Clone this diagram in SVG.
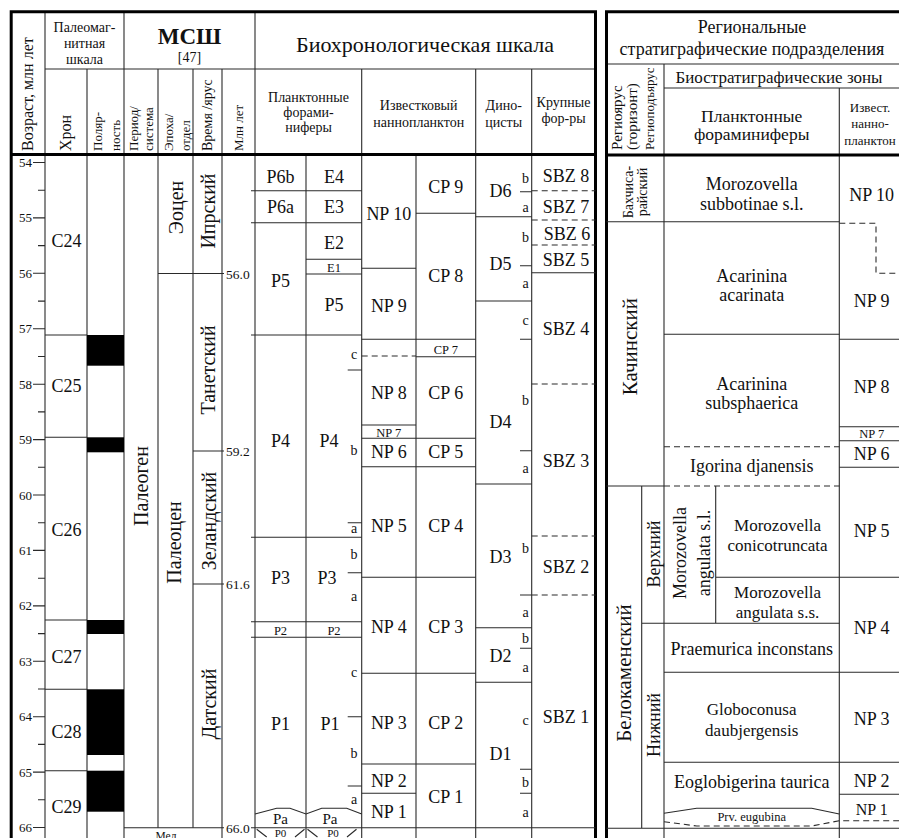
<svg xmlns="http://www.w3.org/2000/svg" width="899" height="838" viewBox="0 0 899 838">
<style>
text{font-family:"Liberation Serif","Times New Roman",serif;fill:#111}
.l{stroke:#2a2a2a;stroke-width:1.1;fill:none}
.t{stroke:#000;stroke-width:3;fill:none}
.d{stroke:#2a2a2a;stroke-width:1.1;fill:none;stroke-dasharray:6 4}
.m{text-anchor:middle}
.z{font-size:18px;text-anchor:middle}
.sm{font-size:12.5px;text-anchor:middle}
.ab{font-size:14px;text-anchor:middle}
.tk{font-size:13px;text-anchor:end}
.ma{font-size:13.5px}
.h14{font-size:14px;text-anchor:middle}
.v20{font-size:20px;text-anchor:middle}
.rs{font-size:18px;text-anchor:middle}
.r17{font-size:17px}
.blk{fill:#000}
</style>
<rect width="899" height="838" fill="#fff"/>

<g id="grid">
 <path class="l" d="M45 69H595.5M45 11V838M124 11V838M255 11V838M87 69V838M158 69V827.7M193 69V827.7M222 69V838M361.7 69V838M475.7 69V838M531.7 69V838M306 154.5V838M416 154.5V838"/>
 <path class="t" d="M9.7 11.8H597M11.2 10.5V838M595.5 10.5V838M11 154.5H595.5"/>
 <path class="l" d="M606.5 64H899M664 88H899M664 64V838M839.3 88V838"/>
 <path class="t" d="M605 11.8H899M606.5 10.5V838M606.5 155H899"/>
</g>

<g id="header-left">
 <g id="h-age"><text transform="translate(33,151) rotate(-90)" font-size="16">Возраст, млн лет</text></g>
 <g id="h-paleomag" class="h14"><text x="84.5" y="31.5">Палеомаг-</text><text x="84.5" y="48">нитная</text><text x="84.5" y="64">шкала</text></g>
 <g id="h-mssh"><text x="189.5" y="43.5" font-size="23" font-weight="bold" class="m">МСШ</text><text x="189.5" y="61.5" class="h14">[47]</text></g>
 <g id="h-chron"><text transform="translate(70.5,151) rotate(-90)" font-size="16">Хрон</text></g>
 <g id="h-pol" font-size="13"><text transform="translate(101.5,151) rotate(-90)">Поляр-</text><text transform="translate(119.5,151) rotate(-90)">ность</text></g>
 <g id="h-period" font-size="13"><text transform="translate(137.5,151) rotate(-90)">Период/</text><text transform="translate(152.5,151) rotate(-90)">система</text></g>
 <g id="h-epoch" font-size="13"><text transform="translate(172.5,151) rotate(-90)">Эпоха/</text><text transform="translate(189.5,151) rotate(-90)">отдел</text></g>
 <g id="h-stage"><text transform="translate(212,151) rotate(-90)" font-size="14">Время /ярус</text></g>
 <g id="h-ma"><text transform="translate(242.5,151) rotate(-90)" font-size="13">Млн лет</text></g>
</g>

<g id="header-middle">
 <g id="h-biochron"><text x="425" y="51.5" font-size="22" class="m">Биохронологическая шкала</text></g>
 <g id="h-pf" class="h14"><text x="308.5" y="101.5">Планктонные</text><text x="308.5" y="116.5">форами-</text><text x="308.5" y="131.5">ниферы</text></g>
 <g id="h-nanno" class="h14"><text x="418.7" y="110">Известковый</text><text x="418.7" y="126.5">наннопланктон</text></g>
 <g id="h-dino" class="h14"><text x="503.7" y="110">Дино-</text><text x="503.7" y="126.5">цисты</text></g>
 <g id="h-lbf" class="h14"><text x="563.5" y="107">Крупные</text><text x="563.5" y="123">фор-ры</text></g>
</g>

<g id="header-right">
 <g id="h-regional" font-size="18" class="m"><text x="752" y="33">Региональные</text><text x="752" y="55">стратиграфические подразделения</text></g>
 <g id="h-regio"><text transform="translate(622,150) rotate(-90)" font-size="15">Региоярус</text><text transform="translate(636.5,150) rotate(-90)" font-size="15">(горизонт)</text><text transform="translate(654,150) rotate(-90)" font-size="13">Региоподъярус</text></g>
 <g id="h-biozones"><text x="779" y="83" font-size="17" class="m">Биостратиграфические зоны</text></g>
 <g id="h-rpf" font-size="17.5" class="m"><text x="751.7" y="121.5">Планктонные</text><text x="751.7" y="140">фораминиферы</text></g>
 <g id="h-rnanno" font-size="13" class="m"><text x="870" y="111.5">Извест.</text><text x="870" y="128">нанно-</text><text x="870" y="144.5">планктон</text></g>
</g>

<g id="age-axis">
 <path class="l" d="M33 162.5H45M33 217.9H45M33 273.3H45M33 328.8H45M33 384.2H45M33 439.6H45M33 495H45M33 550.4H45M33 605.9H45M33 661.3H45M33 716.7H45M33 772.1H45M33 827.5H45"/>
 <path class="l" d="M38 190.2H45M38 245.6H45M38 301.1H45M38 356.5H45M38 411.9H45M38 467.3H45M38 522.7H45M38 578.2H45M38 633.6H45M38 689H45M38 744.4H45M38 799.8H45"/>
 <g class="tk">
  <text x="32" y="167">54</text><text x="32" y="222.4">55</text><text x="32" y="277.8">56</text><text x="32" y="333.3">57</text><text x="32" y="388.7">58</text><text x="32" y="444.1">59</text><text x="32" y="499.5">60</text><text x="32" y="554.9">61</text><text x="32" y="610.4">62</text><text x="32" y="665.8">63</text><text x="32" y="721.2">64</text><text x="32" y="776.6">65</text><text x="32" y="832">66</text>
 </g>
</g>

<g id="magnetochrons">
 <path class="l" d="M45 335H87M45 437.3H87M45 620H87M45 689.3H87M45 770.7H87"/>
 <g class="z"><text x="66.5" y="247">C24</text><text x="66.5" y="391.5">C25</text><text x="66.5" y="536">C26</text><text x="66.5" y="663">C27</text><text x="66.5" y="737.5">C28</text><text x="66.5" y="813">C29</text></g>
</g>
<g id="polarity" class="blk">
 <rect x="87" y="335" width="37" height="30.7"/>
 <rect x="87" y="437.3" width="37" height="15"/>
 <rect x="87" y="620" width="37" height="14"/>
 <rect x="87" y="689.3" width="37" height="65.7"/>
 <rect x="87" y="770.7" width="37" height="41"/>
</g>

<g id="mssh">
 <path class="l" d="M158 273.5H224M193 451H224M193 584H224M124 827.7H224"/>
 <text transform="translate(141,486) rotate(-90)" class="v20" font-size="21" dy=".35em">Палеоген</text>
 <text transform="translate(176,207.5) rotate(-90)" class="v20" dy=".35em">Эоцен</text>
 <text transform="translate(174,542.5) rotate(-90)" class="v20" dy=".35em">Палеоцен</text>
 <text transform="translate(207.5,211) rotate(-90)" class="v20" dy=".35em">Ипрский</text>
 <text transform="translate(207.5,370) rotate(-90)" class="v20" dy=".35em">Танетский</text>
 <text transform="translate(209,521) rotate(-90)" class="v20" dy=".35em">Зеландский</text>
 <text transform="translate(209,704) rotate(-90)" class="v20" dy=".35em">Датский</text>
 <text x="166" y="840" font-size="11.5" class="m">Мел</text>
 <g class="ma"><text x="226" y="278.5">56.0</text><text x="226" y="456">59.2</text><text x="226" y="589">61.6</text><text x="226" y="832.7">66.0</text></g>
</g>

<g id="planktonic-forams">
 <path class="l" d="M251 190.7H361.7M251 222.7H361.7M306 259.3H361.7M306 274H361.7M251 335H361.7M347.7 370H361.7M347.7 522.7H361.7M251 537.3H361.7M347.7 572.7H361.7M251 621.7H361.7M251 637.3H361.7M347.7 716.7H361.7M347.7 786H361.7M251 827.7H595.5"/>
 <path class="l" d="M255 814L276.7 808.3H290L306 814L321.7 808.3H346.7L361.7 814"/>
 <path class="l" d="M256.7 829.3L266.7 837M295 837L304.5 829.3M307.5 829.3L317.5 837M347 837L356.5 829.3"/>
 <g class="z">
  <text x="280.5" y="183">P6b</text><text x="334" y="183">E4</text>
  <text x="280.5" y="212.5">P6a</text><text x="334" y="212.5">E3</text>
  <text x="334" y="248.5">E2</text>
  <text x="280.5" y="286.5">P5</text><text x="334" y="311">P5</text>
  <text x="280.5" y="446.5">P4</text><text x="329" y="446.5">P4</text>
  <text x="280.5" y="584">P3</text><text x="327" y="584">P3</text>
  <text x="280.5" y="730">P1</text><text x="330" y="730">P1</text>
 </g>
 <g class="sm"><text x="334" y="272">E1</text><text x="280.5" y="635">P2</text><text x="334" y="635">P2</text><text x="280.5" y="836.5" font-size="11">P0</text><text x="333" y="836.5" font-size="11">P0</text></g>
 <g font-size="15" class="m"><text x="280.5" y="824">Pa</text><text x="330" y="824">Pa</text></g>
 <g class="ab">
  <text x="354" y="358.5">c</text><text x="354" y="455">b</text><text x="354" y="533">a</text>
  <text x="354" y="559">b</text><text x="354" y="601">a</text>
  <text x="354" y="677">c</text><text x="354" y="758">b</text><text x="354" y="803.5">a</text>
 </g>
</g>

<g id="nannoplankton">
 <path class="l" d="M361.7 268.3H416M416 213.3H475.7M361.7 339.3H475.7M416 356.7H475.7M361.7 425H416M361.7 438.3H475.7M361.7 466.7H475.7M361.7 577.3H475.7M361.7 673.3H475.7M361.7 764H475.7M361.7 793.3H416"/>
 <path class="d" d="M361.7 356H416"/>
 <g class="z">
  <text x="388.8" y="220">NP 10</text><text x="445.8" y="193">CP 9</text>
  <text x="445.8" y="281.5">CP 8</text><text x="388.8" y="311.5">NP 9</text>
  <text x="388.8" y="399">NP 8</text><text x="445.8" y="399">CP 6</text>
  <text x="388.8" y="458">NP 6</text><text x="445.8" y="458">CP 5</text>
  <text x="388.8" y="531.5">NP 5</text><text x="445.8" y="531.5">CP 4</text>
  <text x="388.8" y="633">NP 4</text><text x="445.8" y="633">CP 3</text>
  <text x="388.8" y="729">NP 3</text><text x="445.8" y="729">CP 2</text>
  <text x="388.8" y="786.5">NP 2</text><text x="388.8" y="818">NP 1</text><text x="445.8" y="803">CP 1</text>
 </g>
 <g class="sm"><text x="445.8" y="354">CP 7</text><text x="388.8" y="437">NP 7</text></g>
</g>

<g id="dinocysts">
 <path class="l" d="M475.7 216.7H531.7M475.7 301H531.7M475.7 484H531.7M475.7 627.7H531.7M475.7 682.3H531.7M520 191.7H531.7M520 265.7H531.7M520 339.3H531.7M520 450.7H531.7M520 595H531.7M520 648.3H531.7M520 769.3H531.7M520 793.3H531.7"/>
 <g class="z"><text x="500.5" y="196.5">D6</text><text x="500.5" y="270">D5</text><text x="500.5" y="428">D4</text><text x="500.5" y="563">D3</text><text x="500.5" y="661.5">D2</text><text x="500.5" y="760">D1</text></g>
 <g class="ab">
  <text x="525.5" y="183">b</text><text x="525.5" y="211.5">a</text>
  <text x="525.5" y="241.5">b</text><text x="525.5" y="288">a</text>
  <text x="525.5" y="325">c</text><text x="525.5" y="405">b</text><text x="525.5" y="473">a</text>
  <text x="525.5" y="553">b</text><text x="525.5" y="617">a</text>
  <text x="525.5" y="642.5">b</text><text x="525.5" y="671.5">a</text>
  <text x="525.5" y="725">c</text><text x="525.5" y="786.5">b</text><text x="525.5" y="817">a</text>
 </g>
</g>

<g id="larger-forams">
 <path class="d" d="M531.7 190.7H595.5M531.7 220H595.5M531.7 245H595.5M531.7 384H595.5M531.7 536H595.5M531.7 595H595.5"/>
 <path class="l" d="M531.7 272.7H595.5"/>
 <g class="z"><text x="566" y="181.5">SBZ 8</text><text x="566" y="213">SBZ 7</text><text x="567" y="240">SBZ 6</text><text x="566" y="265.5">SBZ 5</text><text x="566" y="335">SBZ 4</text><text x="566" y="467">SBZ 3</text><text x="566" y="573">SBZ 2</text><text x="566" y="723">SBZ 1</text></g>
</g>

<g id="regional">
 <path class="l" d="M606.5 221.7H839.3M664 334.3H839.3M606.5 486H664M715.7 577.3H899M641.7 623.3H839.3M664 672.3H899M664 762.3H899M839.3 339.3H899M839.3 426.7H899M839.3 440.7H899M839.3 467.3H899M839.3 794.3H899M606.5 828.3H899M641.7 486V828.3M715.7 486V623.3M664 813.3L696.7 808.3H811.7L839.3 814"/>
 <path class="d" d="M664 446.7H839.3M664 486H839.3M839.3 223.3H876V273.3H899M664 821.7L696.7 826H811.7L839.3 820.7H899"/>
 <g id="r-regio">
  <text transform="translate(633,192) rotate(-90)" font-size="14" class="m">Бахчиса-</text>
  <text transform="translate(646.5,192) rotate(-90)" font-size="14" class="m">райский</text>
  <text transform="translate(630,346.7) rotate(-90)" font-size="21" class="m" dy=".35em">Качинский</text>
  <text transform="translate(623.5,673) rotate(-90)" font-size="21" class="m" dy=".35em">Белокаменский</text>
  <text transform="translate(653.3,554) rotate(-90)" font-size="18" class="m" dy=".35em">Верхний</text>
  <text transform="translate(653.3,725) rotate(-90)" font-size="18" class="m" dy=".35em">Нижний</text>
  <text transform="translate(686,553) rotate(-90)" font-size="18" class="m">Morozovella</text>
  <text transform="translate(709.5,553) rotate(-90)" font-size="18" class="m">angulata s.l.</text>
 </g>
 <g id="r-pf" class="rs">
  <text x="751.7" y="189.5">Morozovella</text><text x="751.7" y="210">subbotinae s.l.</text>
  <text x="751.7" y="281.5">Acarinina</text><text x="751.7" y="300.5">acarinata</text>
  <text x="751.7" y="390">Acarinina</text><text x="751.7" y="409">subsphaerica</text>
  <text x="751.7" y="472">Igorina djanensis</text>
  <text x="777.5" y="531" class="r17">Morozovella</text><text x="777.5" y="551" class="r17">conicotruncata</text>
  <text x="777.5" y="598" class="r17">Morozovella</text><text x="777.5" y="617.5" class="r17">angulata s.s.</text>
  <text x="751.7" y="655">Praemurica inconstans</text>
  <text x="751.7" y="715" class="r17">Globoconusa</text><text x="751.7" y="736" class="r17">daubjergensis</text>
  <text x="751.7" y="788">Eoglobigerina taurica</text>
  <text x="751.7" y="821" font-size="12.5">Prv. eugubina</text>
 </g>
 <g id="r-nanno" class="z">
  <text x="871.7" y="201">NP 10</text><text x="871.7" y="307">NP 9</text><text x="871.7" y="393">NP 8</text>
  <text x="871.7" y="438" font-size="12.5">NP 7</text><text x="871.7" y="460">NP 6</text><text x="871.7" y="537">NP 5</text>
  <text x="871.7" y="634">NP 4</text><text x="871.7" y="725">NP 3</text><text x="871.7" y="787">NP 2</text><text x="871.7" y="815" font-size="16">NP 1</text>
 </g>
</g>
</svg>
